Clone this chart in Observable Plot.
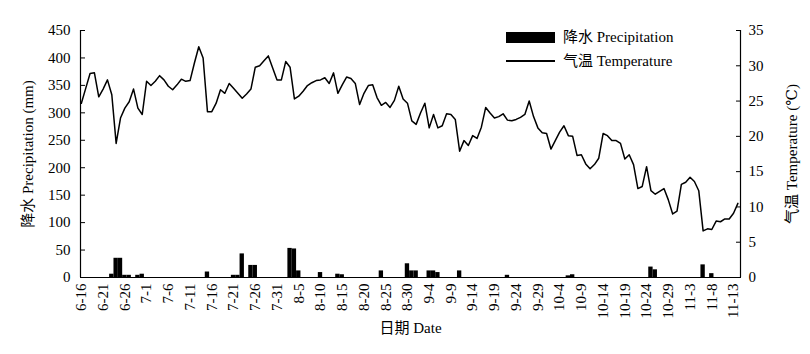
<!DOCTYPE html>
<html>
<head>
<meta charset="utf-8">
<script src="https://cdn.jsdelivr.net/npm/d3@7"></script>
<script src="https://cdn.jsdelivr.net/npm/@observablehq/plot@0.6"></script>
<style>
  html, body { margin: 0; padding: 0; background: #fff; }
  #wrap { position: relative; width: 810px; height: 354px; font-family: "Times New Roman", "Liberation Serif", "DejaVu Serif", "Noto Sans CJK SC", serif; }
  .lg { position: absolute; font-size: 15px; color: #000; white-space: nowrap; line-height: 16px; }
</style>
</head>
<body>
<div id="wrap"></div>
<script>
// ---- data ----
// x: day index, day 0 = 6-16, one value per day up to 11-14
const tickDays = [0,5,10,15,20,25,30,35,40,45,50,55,60,65,70,75,80,85,90,95,100,105,110,115,120,125,130,135,140,145,150];
const tickLabels = ["6-16","6-21","6-26","7-1","7-6","7-11","7-16","7-21","7-26","7-31","8-5","8-10","8-15","8-20","8-25","8-30","9-4","9-9","9-14","9-19","9-24","9-29","10-4","10-9","10-14","10-19","10-24","10-29","11-3","11-8","11-13"];

// daily air temperature (°C)
const temperature = [
  24.7,26.8,28.9,29.0,25.6,26.7,28.0,25.9,19.0,22.6,
  24.0,24.9,26.7,24.0,23.1,27.8,27.2,27.8,28.6,28.0,
  27.1,26.6,27.3,28.1,27.8,27.9,30.4,32.7,31.1,23.5,
  23.5,24.7,26.6,26.1,27.5,26.8,26.1,25.4,26.0,26.7,
  29.8,30.0,30.7,31.4,29.7,28.0,28.0,30.6,29.8,25.3,
  25.7,26.4,27.2,27.6,27.9,28.0,28.3,27.5,29.0,26.1,
  27.3,28.4,28.2,27.5,24.5,26.1,27.2,27.3,25.5,24.4,
  24.8,24.1,25.1,27.1,25.3,24.7,22.2,21.7,23.3,24.7,
  21.2,23.1,21.2,21.5,23.2,23.1,22.4,17.9,19.4,18.7,
  20.1,19.7,21.3,24.1,23.3,22.6,22.8,23.2,22.3,22.2,
  22.4,22.7,23.1,25.0,22.8,21.2,20.5,20.4,18.2,19.4,
  20.6,21.5,20.1,20.0,17.3,17.4,16.1,15.4,16.0,16.9,
  20.4,20.1,19.4,19.4,19.0,16.8,17.4,16.0,12.6,12.9,
  15.7,12.3,11.8,12.2,12.6,11.0,9.0,9.4,13.2,13.5,
  14.2,13.6,12.3,6.6,6.9,6.8,8.0,7.9,8.3,8.3,
  9.1,10.5
];

// precipitation (mm): rainy days and amounts
const precipDays   = [7, 8, 9, 10, 11, 13, 14, 29, 35, 36, 37, 39, 40, 48, 49, 50, 55, 59, 60, 69, 75, 76, 77, 80, 81, 82, 87, 98, 112, 113, 131, 132, 143, 145];
const precipValues = [6, 35, 35, 4, 4, 4, 6, 10, 4, 4, 43, 22, 22, 53, 52, 12, 9, 6, 5, 12, 25, 12, 12, 12, 12, 9, 12, 4, 3, 5, 19, 14, 23, 7];

const precipTicks = [0,50,100,150,200,250,300,350,400,450];
const tempTicks = [0,5,10,15,20,25,30,35];

// ---- chart ----
const FONT = '"Times New Roman", "Liberation Serif", "DejaVu Serif", "Noto Sans CJK SC", serif';
const P_MAX = 450, T_MAX = 35, K = P_MAX / T_MAX;
const xDomain = [-0.2, 151.6];

const rain = precipDays.map((d, i) => ({d, p: precipValues[i]}));
const temp = temperature.map((t, i) => ({d: i, t}));

const chart = Plot.plot({
  width: 810,
  height: 354,
  marginLeft: 80,
  marginRight: 70,
  marginTop: 30,
  marginBottom: 77,
  style: {fontFamily: FONT, fontSize: "15px", color: "#000", background: "#fff", overflow: "visible"},
  x: {domain: xDomain},
  y: {domain: [0, P_MAX]},
  marks: [
    Plot.rectY(rain, {x1: r => r.d - 0.5, x2: r => r.d + 0.5, y: "p", fill: "#000"}),
    Plot.line(temp, {x: "d", y: r => r.t * K, stroke: "#000", strokeWidth: 1.5}),
    Plot.ruleY([0], {stroke: "#000", strokeWidth: 1.2}),
    Plot.ruleX(xDomain, {stroke: "#000", strokeWidth: 1.2}),
    Plot.axisY({anchor: "left", ticks: precipTicks, tickSize: -5, tickPadding: 15, fontFamily: FONT,
      label: "降水 Precipitation (mm)", labelAnchor: "center", labelOffset: 58, labelArrow: "none"}),
    Plot.axisY({anchor: "right", ticks: tempTicks.map(t => t * K), tickFormat: v => String(Math.round(v / K)), fontFamily: FONT,
      tickSize: -5, tickPadding: 13, label: "气温 Temperature (℃)", labelAnchor: "center", labelOffset: 56, labelArrow: "none"}),
    Plot.axisX({ticks: tickDays, tickFormat: v => tickLabels[tickDays.indexOf(v)], tickRotate: -90, fontFamily: FONT,
      tickSize: 0, tickPadding: 6, label: "日期 Date", labelAnchor: "center", labelOffset: 55, labelArrow: "none"})
  ]
});

const wrap = document.getElementById("wrap");
wrap.appendChild(chart);

// legend
const legend = [
  {label: "降水 Precipitation", kind: "rect", top: 29},
  {label: "气温 Temperature", kind: "line", top: 53}
];
for (const item of legend) {
  const sw = document.createElement("div");
  sw.style.position = "absolute";
  sw.style.left = "506px";
  sw.style.width = "49px";
  sw.style.background = "#000";
  if (item.kind === "rect") { sw.style.top = (item.top + 3) + "px"; sw.style.height = "11px"; }
  else { sw.style.top = (item.top + 7) + "px"; sw.style.height = "2px"; }
  wrap.appendChild(sw);
  const t = document.createElement("div");
  t.className = "lg";
  t.style.left = "563px";
  t.style.top = item.top + "px";
  t.textContent = item.label;
  wrap.appendChild(t);
}
</script>
</body>
</html>
